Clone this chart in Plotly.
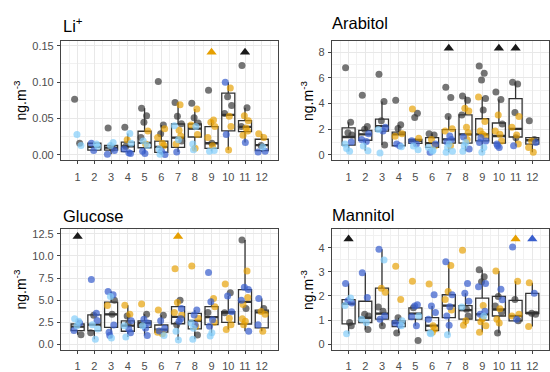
import plotly.graph_objects as go

MONTHS = list(range(1, 13))
MONTH_LABELS = [str(m) for m in MONTHS]

# ---------------- Li+ ----------------
LI_VALUES = [
    [0.0766, 0.016, 0.028, 0.013],
    [0.016, 0.015, 0.006, 0.012],
    [0.037, 0.017, 0.013, 0.006, 0.001, 0.009],
    [0.038, 0.0295, 0.021, 0.016, 0.008, 0.003, 0.002, 0.012],
    [0.064, 0.054, 0.045, 0.033, 0.024, 0.015, 0.013, 0.005, 0.002, 0.019],
    [0.101, 0.041, 0.029, 0.036, 0.024, 0.016, 0.013, 0.008, 0.005, 0.001, 0.0005],
    [0.072, 0.069, 0.053, 0.043, 0.040, 0.034, 0.026, 0.015, 0.021, 0.004, 0.019],
    [0.071, 0.063, 0.051, 0.044, 0.041, 0.039, 0.028, 0.015, 0.009, 0.007],
    [0.089, 0.048, 0.045, 0.039, 0.024, 0.0125, 0.006, 0.005, 0.016],
    [0.100, 0.092, 0.080, 0.068, 0.057, 0.053, 0.039, 0.028, 0.0067],
    [0.123, 0.065, 0.054, 0.047, 0.039, 0.037, 0.033, 0.027, 0.017],
    [0.029, 0.024, 0.013, 0.005, 0.004, 0.011],
]
LI_GROUPS = ["DDLL", "BLBL", "DLLBBD", "DLOLBBBD", "DDDODOLBBL", "DDDOOOOLBLB",
             "DODDLOOOLBD", "DODDOLOLOL", "DOOOOOLLD", "BODDDOOBO", "DDOODOOOB", "OODBBL"]
LI_Q1 = [None, 0.0067, 0.0067, 0.0045, 0.0098, 0.0036, 0.0103, 0.0246, 0.009, 0.033, 0.032, 0.006]
LI_MED = [None, 0.011, 0.010, 0.0116, 0.0165, 0.011, 0.0237, 0.036, 0.016, 0.055, 0.0385, 0.0134]
LI_Q3 = [None, 0.016, 0.013, 0.0175, 0.0325, 0.019, 0.0425, 0.0425, 0.039, 0.085, 0.047, 0.0215]
LI_TRI_MONTH = [9, 11]
LI_TRI_GROUP = ["O", "D"]
LI_CAP = 0.141

# ---------------- Arabitol ----------------
AR_VALUES = [
    [6.78, 2.53, 1.72, 1.54, 0.84, 0.28, 1.0, 0.5],
    [4.63, 2.2, 2.0, 1.65, 1.2, 1.05, 0.33, 0.7],
    [6.28, 4.15, 2.66, 2.15, 1.97, 1.85, 0.76, 0.15],
    [4.25, 2.35, 2.05, 1.65, 1.45, 0.71, 0.64, 0.84],
    [3.57, 3.24, 2.9, 1.3, 1.1, 0.84, 0.4, 0.7],
    [1.65, 1.55, 1.2, 0.84, 0.58, 0.38, 0.7, 0.2, 0.28],
    [5.27, 4.46, 2.99, 2.03, 1.85, 1.47, 1.2, 1.03, 0.84, 0.58, 0.28, 0.2, 0.71],
    [4.58, 4.25, 3.62, 3.42, 3.11, 2.15, 1.72, 1.39, 0.96, 0.71, 0.46, 0.28, 1.2],
    [6.91, 6.35, 5.82, 4.38, 4.5, 3.5, 2.6, 1.85, 1.6, 1.34, 1.09, 0.96, 0.58, 0.2, 1.47],
    [4.89, 4.3, 3.1, 2.4, 1.85, 1.6, 1.09, 0.84, 0.58, 0.71],
    [5.65, 5.52, 3.29, 2.99, 2.15, 1.54, 0.84, 0.71, 1.34],
    [2.66, 1.2, 1.09, 0.96, 0.58, 0.2],
]
AR_GROUPS = ["DDDDLLBL", "DDDBBBLL", "DDDBLBDL", "DDDOOBLB", "ODDOBBLL", "DDOBLLOBL",
             "DDDOOBBBLLLLO", "DDOODOOBLLBLO", "DDDDODOOOBBBLLO", "DDODOOOBBB",
             "DDDOOOOBD", "DDOBOO"]
AR_Q1 = [0.76, 1.14, 1.85, 0.71, 0.9, 0.58, 0.91, 0.91, 1.09, 0.91, 1.39, 0.84]
AR_MED = [1.39, 1.6, 2.23, 1.6, 1.1, 0.91, 1.2, 1.6, 1.6, 1.47, 2.03, 1.14]
AR_Q3 = [2.1, 1.9, 2.78, 1.77, 1.2, 1.34, 1.97, 3.11, 2.81, 2.48, 4.38, 1.34]
AR_TRI_MONTH = [7, 10, 11]
AR_TRI_GROUP = ["D", "D", "D"]
AR_CAP = 8.3

# ---------------- Glucose ----------------
GL_VALUES = [
    [2.9, 2.4, 2.1, 1.07, 1.55, 2.6],
    [7.34, 3.5, 3.28, 1.73, 1.29, 0.55, 2.7, 2.2],
    [5.97, 5.6, 5.42, 4.98, 4.39, 3.39, 2.18, 1.36, 0.7, 1.0],
    [4.42, 3.39, 3.2, 2.65, 2.1, 1.73, 1.29, 0.81, 2.3],
    [4.57, 3.39, 2.84, 2.4, 2.2, 1.8, 1.0, 2.1],
    [3.87, 3.28, 2.65, 1.8, 1.36, 1.18, 1.0, 1.5],
    [8.56, 4.98, 4.72, 4.06, 3.6, 2.6, 2.9, 1.48, 0.49, 2.2, 3.3],
    [8.85, 3.87, 3.3, 2.95, 2.4, 2.0, 1.04, 0.55, 2.2, 1.8],
    [8.12, 5.17, 4.8, 4.25, 3.6, 2.77, 2.5, 2.03, 1.29, 0.93],
    [6.82, 5.83, 5.46, 3.69, 3.58, 2.95, 2.21, 1.66],
    [11.8, 8.3, 6.46, 6.2, 4.98, 4.06, 5.3, 4.5, 2.59, 2.2, 1.48, 2.9],
    [5.17, 4.06, 3.7, 3.4, 2.2, 1.48],
]
GL_GROUPS = ["LBLDBL", "BBDLDLBL", "BBLDODBBLB", "OODBLBBLD", "ODBBDBBL", "ODBBOOLB",
             "ODOBOBBLLDO", "OBBOLODLBL", "BOBODBOBLL", "ODBBDOOO", "DOBBBDOOOOBO", "BDOOBO"]
GL_Q1 = [1.55, 1.55, 1.92, 1.47, 1.92, 1.36, 2.32, 1.74, 2.21, 2.48, 2.29, 1.85]
GL_MED = [2.0, 2.21, 3.39, 2.1, 2.4, 1.66, 3.1, 2.65, 3.06, 3.58, 4.8, 3.62]
GL_Q3 = [2.29, 3.32, 4.76, 2.65, 2.65, 2.18, 4.25, 3.5, 4.25, 3.69, 6.19, 3.87]
GL_TRI_MONTH = [1, 7]
GL_TRI_GROUP = ["D", "O"]
GL_CAP = 12.2

# ---------------- Mannitol ----------------
MA_VALUES = [
    [2.52, 1.91, 1.8, 1.71, 1.6, 0.9, 0.77, 0.43],
    [2.96, 1.94, 1.24, 1.17, 1.04, 0.9, 0.61],
    [3.93, 3.49, 2.32, 2.15, 1.54, 1.37, 1.17, 1.04, 0.77],
    [3.23, 1.85, 1.1, 0.97, 0.88, 0.8, 0.77, 0.47],
    [2.61, 1.64, 1.58, 1.17, 1.14, 0.77, 0.16, 1.51],
    [2.49, 2.05, 1.58, 1.31, 1.04, 0.77, 0.63, 0.47, 0.5, 0.43],
    [3.42, 3.26, 2.18, 2.05, 1.85, 1.55, 1.42, 1.17, 0.79, 0.39],
    [3.89, 2.52, 2.11, 1.78, 1.54, 1.45, 1.17, 0.79, 0.97],
    [3.08, 2.79, 2.59, 2.52, 2.38, 1.6, 1.37, 1.24, 1.06, 0.93, 0.77, 0.5, 1.17],
    [3.03, 2.28, 1.98, 1.84, 1.58, 1.47, 1.33, 1.04, 0.88, 0.47],
    [4.03, 2.61, 1.85, 1.24, 1.17, 1.04, 0.97],
    [2.55, 2.11, 1.28, 1.24, 0.73],
]
MA_GROUPS = ["BLBBLDDL", "BBDDLLD", "BLOODDBBD", "OODLBBLD", "OBBLBBDD", "OBBBBOOLOL",
             "BOOBOBOBBL", "OBBBLDDOO", "DDDBBOBBOOOOL", "OBDBDODOOD", "BODOOBD", "OBDDO"]
MA_Q1 = [0.84, 0.9, 1.04, 0.73, 1.04, 0.57, 1.1, 1.04, 1.0, 1.17, 0.97, 1.28]
MA_MED = [1.68, 1.1, 1.27, 0.88, 1.27, 0.77, 1.6, 1.41, 1.24, 1.44, 1.17, 1.28]
MA_Q3 = [1.85, 1.78, 2.32, 0.97, 1.51, 1.1, 2.05, 1.6, 1.91, 1.98, 1.82, 2.11]
MA_TRI_MONTH = [1, 11, 12]
MA_TRI_GROUP = ["D", "O", "B"]
MA_CAP = 4.36

POINT_COLORS = {"D": "rgba(51,51,51,0.68)", "O": "rgba(230,159,0,0.68)",
                "B": "rgba(58,95,205,0.72)", "L": "rgba(135,206,250,0.72)"}
TRI_COLORS = {"D": "#1a1a1a", "O": "#E69F00", "B": "#3A5FCD"}
JITTER = [-0.18, 0.12, -0.04, 0.2, -0.22, 0.06, 0.16, -0.12, 0.02, -0.08, 0.22, -0.16, 0.1, -0.02, 0.18]

panels = [
    dict(title="Li<sup>+</sup>", vals=LI_VALUES, grps=LI_GROUPS, q1=LI_Q1, med=LI_MED, q3=LI_Q3,
         tm=LI_TRI_MONTH, tg=LI_TRI_GROUP, cap=LI_CAP, yr=[-0.0075, 0.157],
         tv=[0, 0.05, 0.10, 0.15], tt=["0.00", "0.05", "0.10", "0.15"], minor=0.025,
         xd=[61 / 550, 279 / 550], yd=[1 - 163.3 / 372, 1 - 40.7 / 372],
         tx=61, ty=25, yx=20),
    dict(title="Arabitol", vals=AR_VALUES, grps=AR_GROUPS, q1=AR_Q1, med=AR_MED, q3=AR_Q3,
         tm=AR_TRI_MONTH, tg=AR_TRI_GROUP, cap=AR_CAP, yr=[-0.425, 8.88],
         tv=[0, 2, 4, 6, 8], tt=["0", "2", "4", "6", "8"], minor=1,
         xd=[332.5 / 550, 1.0], yd=[1 - 163.3 / 372, 1 - 40.7 / 372],
         tx=331, ty=23, yx=307),
    dict(title="Glucose", vals=GL_VALUES, grps=GL_GROUPS, q1=GL_Q1, med=GL_MED, q3=GL_Q3,
         tm=GL_TRI_MONTH, tg=GL_TRI_GROUP, cap=GL_CAP, yr=[-0.66, 13.05],
         tv=[0, 2.5, 5, 7.5, 10, 12.5], tt=["0.0", "2.5", "5.0", "7.5", "10.0", "12.5"], minor=1.25,
         xd=[61 / 550, 279 / 550], yd=[1 - 357.7 / 372, 1 - 233.7 / 372],
         tx=61, ty=220, yx=20),
    dict(title="Mannitol", vals=MA_VALUES, grps=MA_GROUPS, q1=MA_Q1, med=MA_MED, q3=MA_Q3,
         tm=MA_TRI_MONTH, tg=MA_TRI_GROUP, cap=MA_CAP, yr=[-0.24, 4.77],
         tv=[0, 1, 2, 3, 4], tt=["0", "1", "2", "3", "4"], minor=0.5,
         xd=[332.5 / 550, 1.0], yd=[1 - 357.7 / 372, 1 - 233.7 / 372],
         tx=331, ty=219, yx=307),
]

FONT = "Liberation Sans, Arial, sans-serif"
BOX_W = 0.78
fig = go.Figure()
annotations = []
layout = {}

for i, p in enumerate(panels):
    sfx = "" if i == 0 else str(i + 1)
    xa, ya = "x" + sfx, "y" + sfx

    # boxes
    bm, bq1, bmed, bq3, blo, bhi = [], [], [], [], [], []
    for k, m in enumerate(MONTHS):
        if p["q1"][k] is None:
            continue
        q1, q3 = p["q1"][k], p["q3"][k]
        iqr = q3 - q1
        vals = p["vals"][k]
        inside_hi = [v for v in vals if v <= q3 + 1.5 * iqr]
        inside_lo = [v for v in vals if v >= q1 - 1.5 * iqr]
        bm.append(m); bq1.append(q1); bmed.append(p["med"][k]); bq3.append(q3)
        blo.append(min(min(inside_lo), q1)); bhi.append(max(max(inside_hi), q3))
    fig.add_trace(go.Box(x=bm, q1=bq1, median=bmed, q3=bq3, lowerfence=blo, upperfence=bhi,
                         width=BOX_W, whiskerwidth=0, boxpoints=False,
                         line=dict(color="#333333", width=1.3), fillcolor="rgba(0,0,0,0)",
                         xaxis=xa, yaxis=ya, showlegend=False, hoverinfo="skip"))
    # thicker median bars
    mx, my = [], []
    for m, md in zip(bm, bmed):
        mx += [m - BOX_W / 2, m + BOX_W / 2, None]
        my += [md, md, None]
    fig.add_trace(go.Scatter(x=mx, y=my, mode="lines", line=dict(color="#333333", width=2.3),
                             xaxis=xa, yaxis=ya, showlegend=False, hoverinfo="skip"))

    # jittered points
    for g in ["D", "O", "B", "L"]:
        px_, py_ = [], []
        for k, m in enumerate(MONTHS):
            for j, (v, gg) in enumerate(zip(p["vals"][k], p["grps"][k])):
                if gg == g:
                    px_.append(m + JITTER[j % len(JITTER)])
                    py_.append(v)
        fig.add_trace(go.Scatter(x=px_, y=py_, mode="markers",
                                 marker=dict(size=7, color=POINT_COLORS[g], line=dict(width=0)),
                                 xaxis=xa, yaxis=ya, showlegend=False))
    # out-of-range triangles
    fig.add_trace(go.Scatter(x=p["tm"], y=[p["cap"]] * len(p["tm"]), mode="markers",
                             marker=dict(symbol="triangle-up", size=9,
                                         color=[TRI_COLORS[g] for g in p["tg"]], line=dict(width=0)),
                             xaxis=xa, yaxis=ya, showlegend=False))

    common = dict(showline=True, mirror=True, linecolor="#444444", linewidth=1,
                  ticks="outside", ticklen=3, tickcolor="#444444", tickwidth=1,
                  tickfont=dict(family=FONT, size=11, color="#4d4d4d"),
                  showgrid=True, gridcolor="#e8e8e8", gridwidth=1, zeroline=False, fixedrange=True)
    layout["xaxis" + sfx] = dict(common, domain=p["xd"], range=[0, 13], anchor=ya,
                                 tickvals=MONTHS, ticktext=MONTH_LABELS, ticklabelstandoff=3,
                                 minor=dict(tick0=0.5, dtick=1, showgrid=True, gridcolor="#f1f1f1",
                                            gridwidth=1, ticks=""))
    layout["yaxis" + sfx] = dict(common, domain=p["yd"], range=p["yr"], anchor=xa,
                                 tickvals=p["tv"], ticktext=p["tt"], ticklabelstandoff=1,
                                 minor=dict(tick0=0, dtick=p["minor"], showgrid=True,
                                            gridcolor="#f1f1f1", gridwidth=1, ticks=""))
    annotations.append(dict(text=p["title"], xref="paper", yref="paper",
                            x=p["tx"] / 550, y=1 - p["ty"] / 372, xanchor="left", yanchor="middle",
                            showarrow=False, font=dict(family=FONT, size=16.5, color="black")))
    ymid = (p["yd"][0] + p["yd"][1]) / 2
    annotations.append(dict(text="ng.m<sup>-3</sup>", xref="paper", yref="paper",
                            x=p["yx"] / 550, y=ymid, xanchor="center", yanchor="middle",
                            textangle=-90, showarrow=False,
                            font=dict(family=FONT, size=14, color="black")))

fig.update_layout(width=550, height=372, autosize=False, margin=dict(l=0, r=0, t=0, b=0),
                  paper_bgcolor="white", plot_bgcolor="white", showlegend=False,
                  annotations=annotations, **layout)

POST = (
    "document.documentElement.style.cssText='margin:0;padding:0;overflow:hidden;height:372px;width:550px;';"
    "document.body.style.cssText='margin:0;padding:0;overflow:hidden;height:372px;width:550px;';"
    "var gd=document.querySelector('.plotly-graph-div');"
    "if(gd){gd.style.position='fixed';gd.style.left='0px';gd.style.top='0px';}"
)
fig.write_html("out.html", config={"displayModeBar": False, "staticPlot": True},
               post_script=POST)
